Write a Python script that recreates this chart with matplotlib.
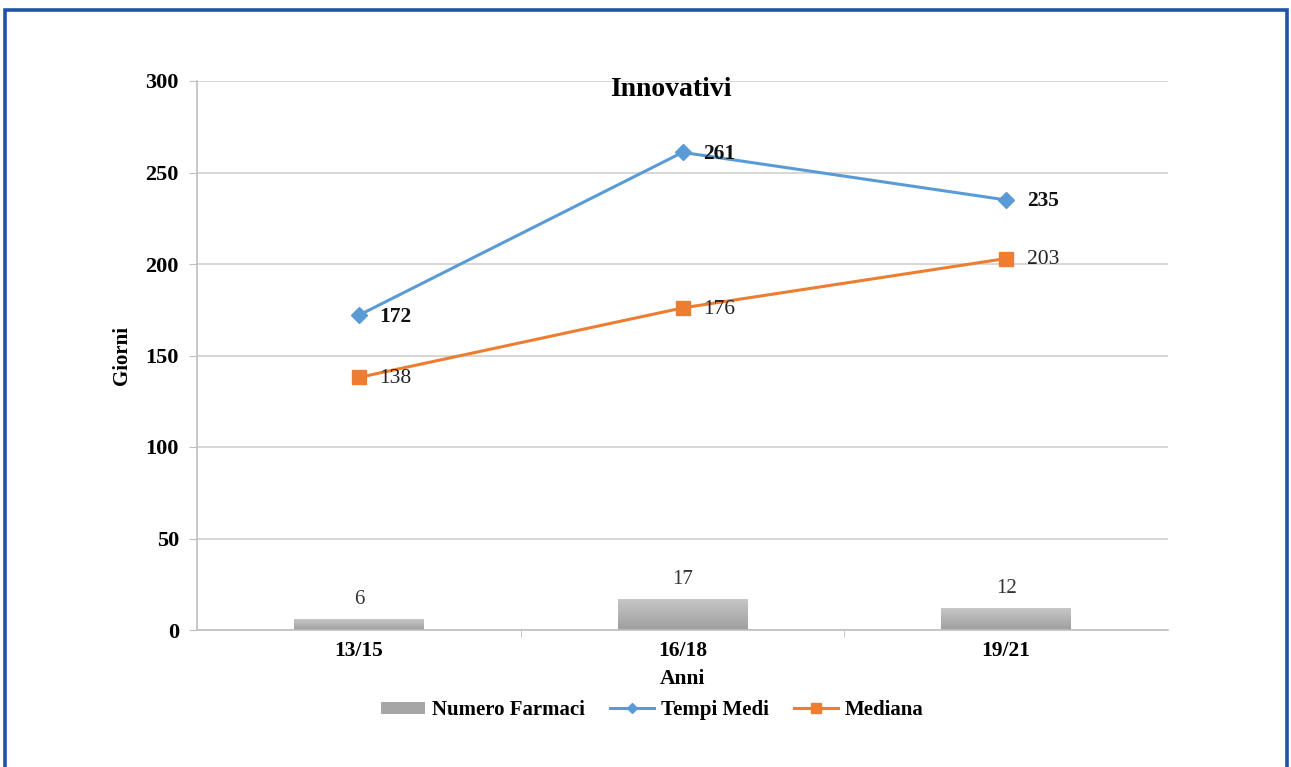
import matplotlib
matplotlib.use("Agg")
import matplotlib.pyplot as plt
from matplotlib.lines import Line2D
from matplotlib.patches import Patch
import numpy as np

periods = ["13/15", "16/18", "19/21"]
numero_farmaci = [6, 17, 12]
tempi_medi = [172, 261, 235]
mediana = [138, 176, 203]
y_ticks = [0, 50, 100, 150, 200, 250, 300]

plt.rcParams["font.family"] = ["Liberation Serif", "DejaVu Serif"]

W, H = 1291, 767
fig = plt.figure(figsize=(W / 100, H / 100), dpi=100)
fig.patch.set_facecolor("white")

# blue frame around the chart (open at the bottom)
fig.add_artist(Line2D([5 / W, 5 / W, 1287 / W, 1287 / W],
                      [0, 1 - 10 / H, 1 - 10 / H, 0],
                      transform=fig.transFigure, color="#1F55A0", lw=2.6,
                      solid_joinstyle="miter"))

ax = fig.add_axes([197 / W, 1 - 630 / H, (1168 - 197) / W, (630 - 81) / H])
x = np.arange(len(periods))

# gradient grey bars
bar_w = 0.4
bars = ax.bar(x, numero_farmaci, width=bar_w, color="#A6A6A6", zorder=2)
grad = np.linspace(0.62, 0.78, 64).reshape(-1, 1)
for b in bars:
    bx, by = b.get_x(), b.get_y()
    bw, bh = b.get_width(), b.get_height()
    im = ax.imshow(grad, cmap="gray", vmin=0, vmax=1, aspect="auto",
                   extent=[bx, bx + bw, by, by + bh], origin="lower", zorder=2.1)
    im.set_clip_path(b)
for xi, v in zip(x, numero_farmaci):
    ax.annotate(str(v), (xi, v), xytext=(0, 14), textcoords="offset points",
                ha="center", va="center", fontsize=15, color="#333333")

blue = "#5B9BD5"
orange = "#ED7D31"
ax.plot(x, tempi_medi, color=blue, lw=2.2, marker="D", markersize=8, zorder=4)
ax.plot(x, mediana, color=orange, lw=2.2, marker="s", markersize=10, zorder=4)

for xi, v in zip(x, tempi_medi):
    ax.annotate(str(v), (xi, v), xytext=(15, -1), textcoords="offset points",
                ha="left", va="center", fontsize=15.5, fontweight="bold",
                color="#111111", zorder=5)
for xi, v in zip(x, mediana):
    ax.annotate(str(v), (xi, v), xytext=(15, -1), textcoords="offset points",
                ha="left", va="center", fontsize=15.5, color="#222222", zorder=5)

ax.set_xlim(-0.5, len(periods) - 0.5)
ax.set_ylim(0, 300)
ax.set_yticks(y_ticks)
ax.set_yticklabels([str(t) for t in y_ticks], fontsize=16, fontweight="bold")
ax.set_xticks(x)
ax.set_xticklabels(periods, fontsize=15.5, fontweight="bold")
ax.set_xticks([0.5, 1.5], minor=True)
ax.tick_params(axis="x", which="major", length=0, pad=8)
ax.tick_params(axis="x", which="minor", length=5, color="#BFBFBF", direction="out")
ax.tick_params(axis="y", length=6, color="#BFBFBF", pad=7)

ax.grid(axis="y", color="#D0D0D0", lw=1.2, zorder=0)
for side in ["top", "right"]:
    ax.spines[side].set_visible(False)
ax.spines["left"].set_color("#BFBFBF")
ax.spines["bottom"].set_color("#BFBFBF")
ax.spines["left"].set_linewidth(1.2)
ax.spines["bottom"].set_linewidth(1.2)
ax.set_axisbelow(True)

ax.set_ylabel("Giorni", fontsize=15, fontweight="bold", labelpad=10)
ax.set_xlabel("Anni", fontsize=15.5, fontweight="bold", labelpad=6)
ax.text(0.488, 0.985, "Innovativi", transform=ax.transAxes, ha="center",
        va="center", fontsize=20, fontweight="bold")

handles = [
    Patch(facecolor="#A6A6A6", edgecolor="none"),
    Line2D([], [], color=blue, lw=2.2, marker="D", markersize=5),
    Line2D([], [], color=orange, lw=2.2, marker="s", markersize=7),
]
leg = fig.legend(handles, ["Numero Farmaci", "Tempi Medi", "Mediana"],
                 loc="center", bbox_to_anchor=(652 / W, 1 - 710 / H), ncol=3,
                 frameon=False, prop={"size": 15, "weight": "bold"},
                 handlelength=2.15, handleheight=0.5, columnspacing=1.2,
                 handletextpad=0.3)

fig.savefig("out.png", dpi=100)
